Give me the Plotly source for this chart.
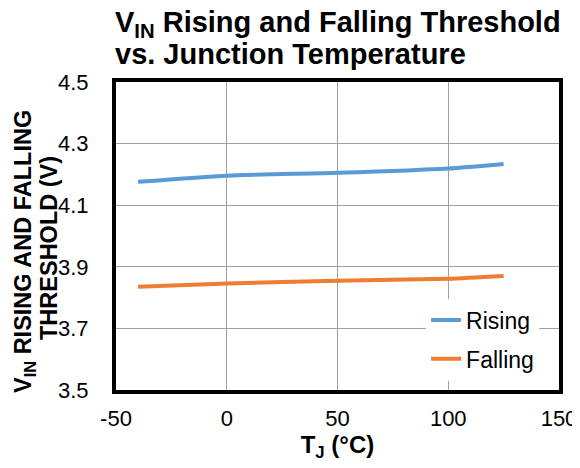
import plotly.graph_objects as go

temps = [-40, 0, 50, 100, 125]
rising = [4.176, 4.196, 4.205, 4.219, 4.234]
falling = [3.835, 3.846, 3.855, 3.861, 3.870]

x_ticks = [-50, 0, 50, 100, 150]
y_ticks = [3.5, 3.7, 3.9, 4.1, 4.3, 4.5]

title_line1 = "V<sub>IN</sub> Rising and Falling Threshold"
title_line2 = "vs. Junction Temperature"
ytitle_line1 = "V<sub>IN</sub> RISING AND FALLING"
ytitle_line2 = "THRESHOLD (V)"
xtitle = "T<sub>J</sub> (°C)"

FONT = "Liberation Sans, Arial, sans-serif"

# page body has an 8px margin; figure is sized so it ends at the window edge
W, H = 572, 460
ML, MR, MT, MB = 108, 21, 74, 78
PW, PH = W - ML - MR, H - MT - MB
OX, OY = ML + 8, MT + 8  # plot origin in window pixels


def px_x(x):
    return (x - OX) / PW


def px_y(y):
    return (OY + PH - y) / PH


fig = go.Figure()
fig.add_trace(go.Scatter(x=temps, y=rising, name="Rising", mode="lines",
                         line=dict(color="#5B9BD5", width=4, shape="spline", smoothing=0.6),
                         legendgroup="r"))
fig.add_trace(go.Scatter(x=temps, y=falling, name="Falling", mode="lines",
                         line=dict(color="#ED7D31", width=4, shape="spline", smoothing=0.6),
                         legendgroup="f"))

for txt, ypix in [(title_line1, 24), (title_line2, 54)]:
    fig.add_annotation(
        text=txt, xref="paper", yref="paper",
        x=px_x(113), y=px_y(ypix),
        xanchor="left", yanchor="middle", showarrow=False,
        font=dict(family=FONT, size=29, color="black", weight="bold"),
    )

for txt, xpix, ypix in [(ytitle_line1, 24, 252), (ytitle_line2, 48.5, 248.5)]:
    fig.add_annotation(
        text=txt, xref="paper", yref="paper", textangle=-90,
        x=px_x(xpix), y=px_y(ypix),
        xanchor="center", yanchor="middle", showarrow=False,
        font=dict(family=FONT, size=23.5, color="black", weight="bold"),
    )

fig.update_layout(
    width=W, height=H,
    paper_bgcolor="white", plot_bgcolor="white",
    margin=dict(l=ML, r=MR, t=MT, b=MB, autoexpand=False),
    font=dict(family=FONT, size=22, color="black"),
    showlegend=True,
    legend=dict(
        x=0.70, y=0.297, xanchor="left", yanchor="top",
        bgcolor="white", borderwidth=0,
        font=dict(family=FONT, size=23, color="black"),
        tracegroupgap=6,
    ),
)

fig.update_xaxes(
    range=[-50, 150], tickvals=x_ticks, ticktext=[str(v) for v in x_ticks],
    showgrid=True, gridcolor="#A0A0A0", gridwidth=1.3, zeroline=False,
    showline=True, linecolor="black", linewidth=4, mirror=True,
    ticks="", ticklabelstandoff=6, automargin=False,
    tickfont=dict(family=FONT, size=22, color="black"),
    title=dict(text=xtitle, font=dict(family=FONT, size=24, color="black", weight="bold"),
               standoff=6),
)
fig.update_yaxes(
    range=[3.5, 4.5], tickvals=y_ticks, ticktext=[f"{v:.1f}" for v in y_ticks],
    showgrid=True, gridcolor="#A0A0A0", gridwidth=1.3, zeroline=False,
    showline=True, linecolor="black", linewidth=4, mirror=True,
    ticks="", ticklabelstandoff=19, automargin=False,
    tickfont=dict(family=FONT, size=22, color="black"),
)

fig.write_html("out.html")
